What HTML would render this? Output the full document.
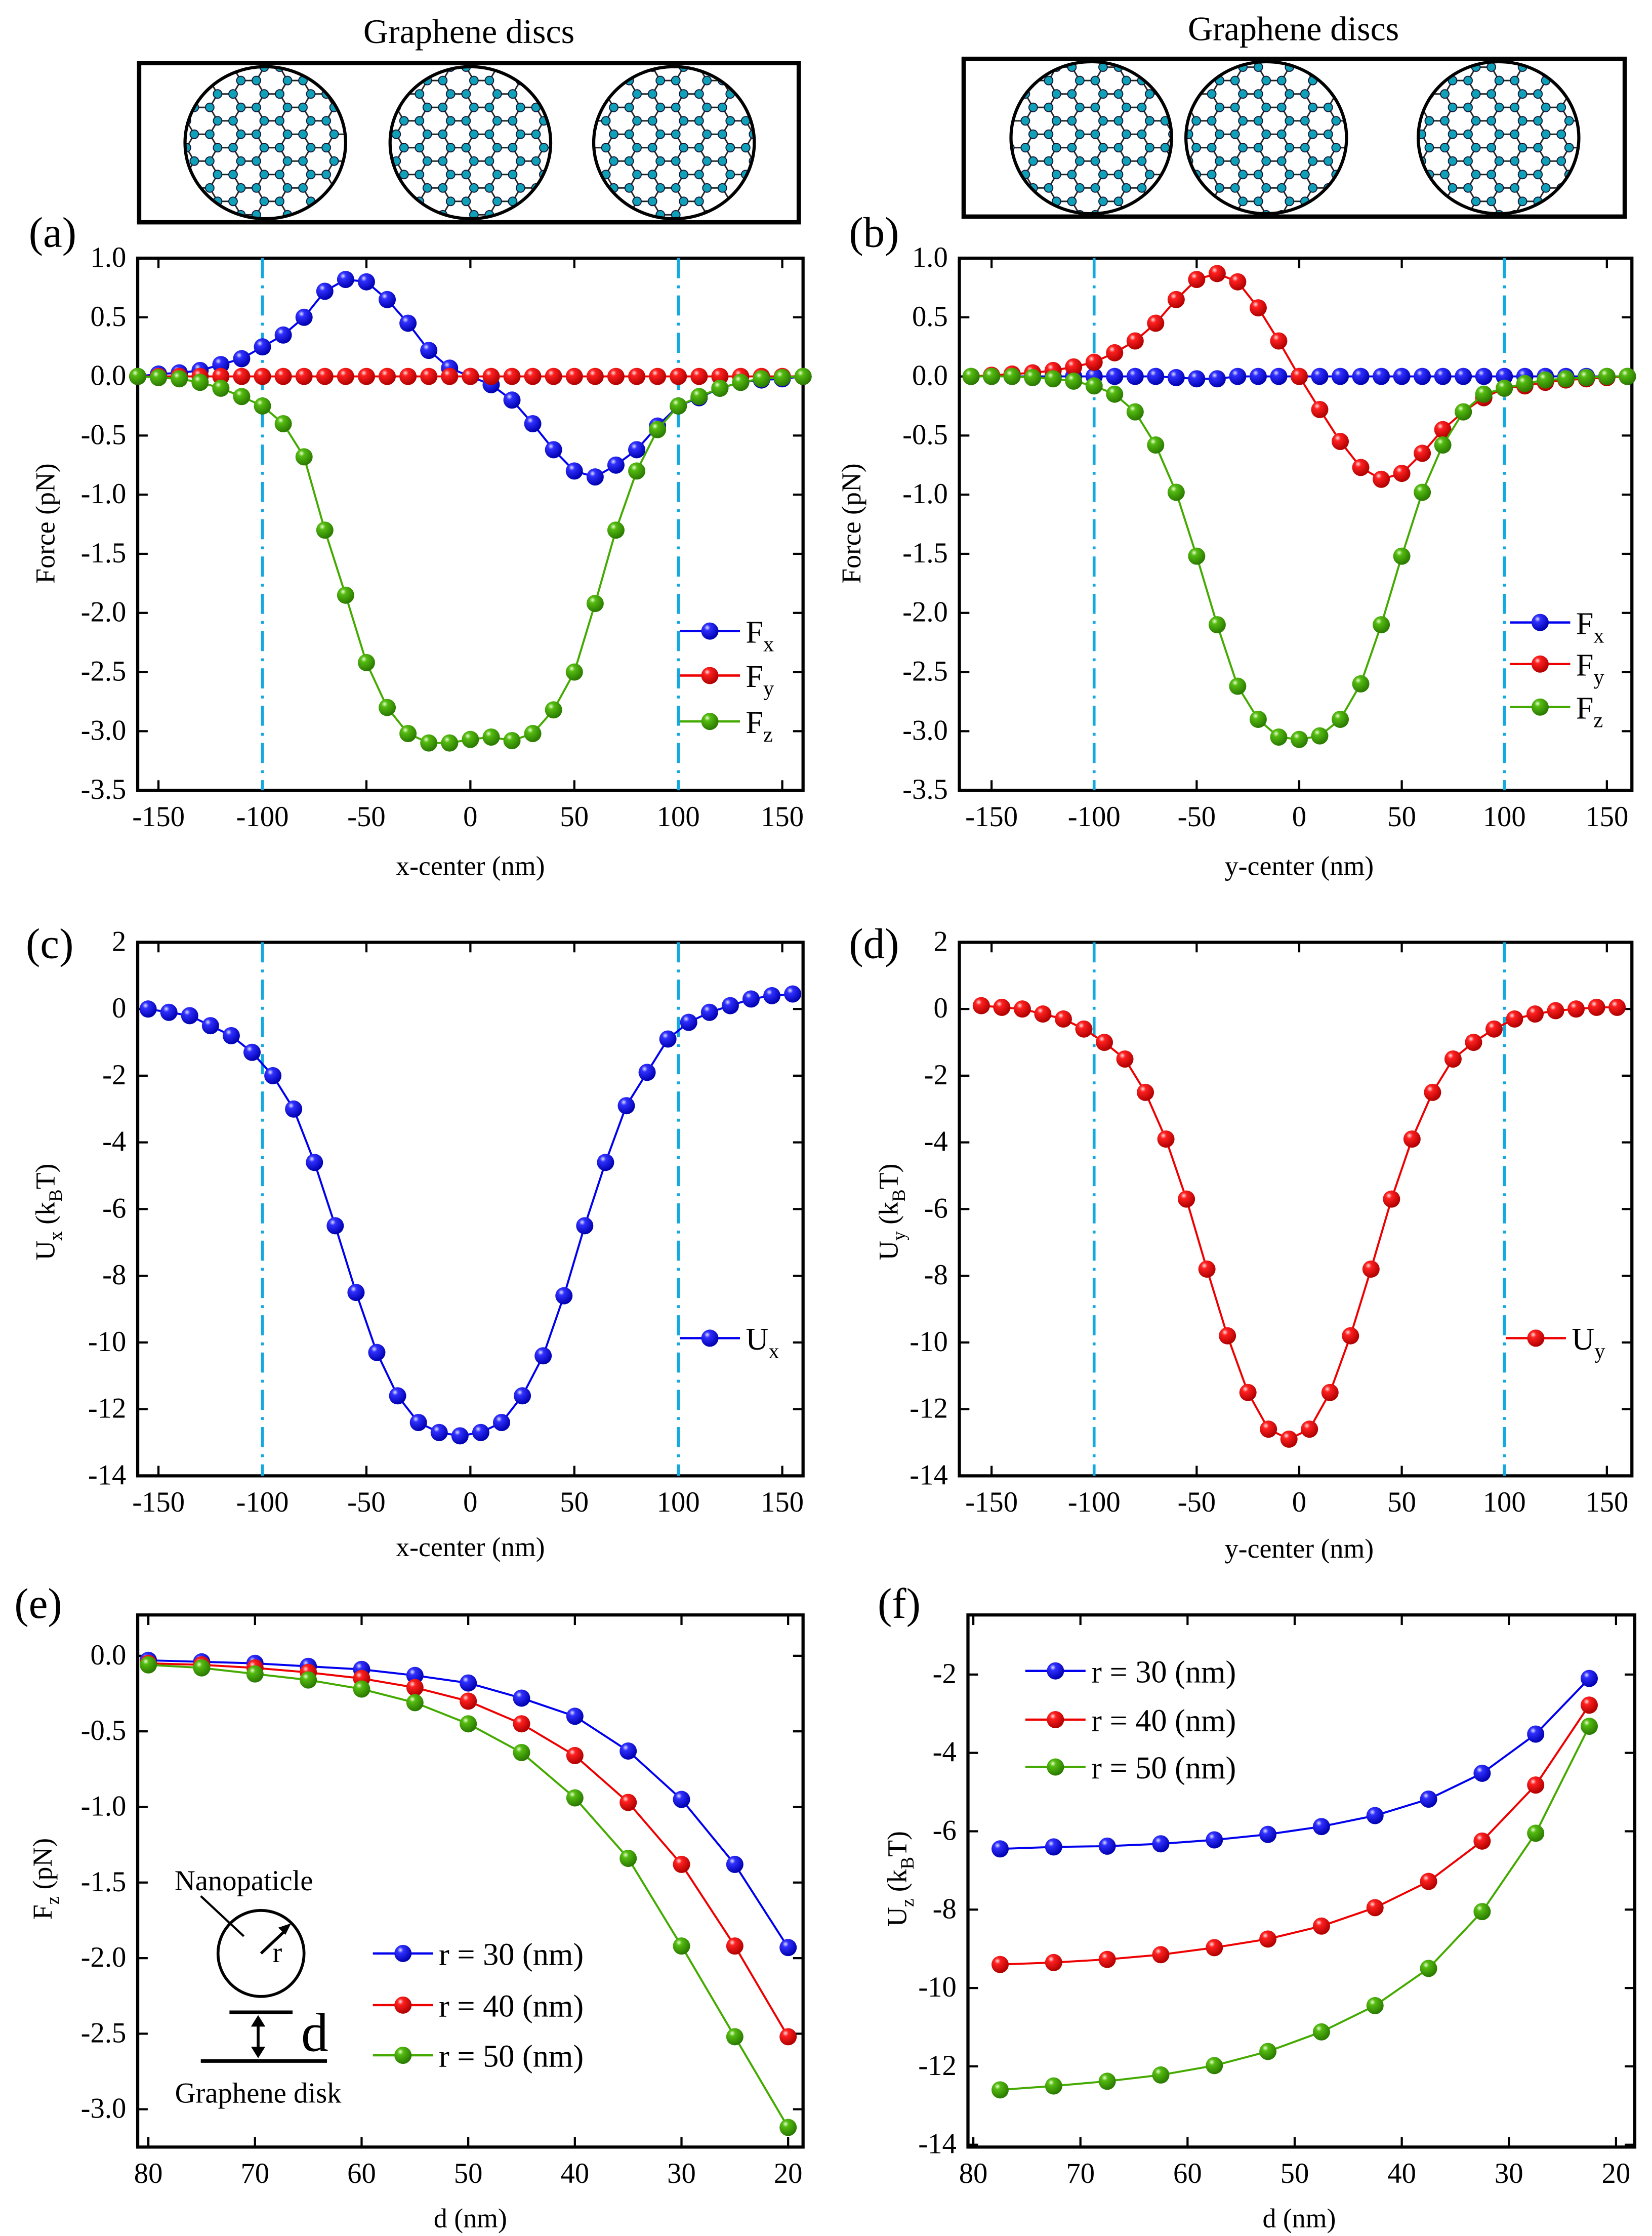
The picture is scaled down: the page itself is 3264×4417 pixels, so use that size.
<!DOCTYPE html>
<html><head><meta charset="utf-8"><style>
html,body{margin:0;padding:0;background:#fff}
svg{display:block;font-family:"Liberation Serif",serif}
</style></head><body>
<svg id="fig" width="3264" height="4417" viewBox="0 0 1152 1559" xmlns="http://www.w3.org/2000/svg">
<defs>
<radialGradient id="gb" cx="0.35" cy="0.3" r="0.7"><stop offset="0" stop-color="#e0e0ff"/><stop offset="0.25" stop-color="#3030ff"/><stop offset="1" stop-color="#0000b0"/></radialGradient>
<radialGradient id="gr" cx="0.35" cy="0.3" r="0.7"><stop offset="0" stop-color="#ffe0e0"/><stop offset="0.25" stop-color="#ff2020"/><stop offset="1" stop-color="#b00000"/></radialGradient>
<radialGradient id="gg" cx="0.35" cy="0.3" r="0.7"><stop offset="0" stop-color="#e8ffd0"/><stop offset="0.25" stop-color="#55bb11"/><stop offset="1" stop-color="#2a7a00"/></radialGradient>
<pattern id="hex" width="25" height="14.4" patternUnits="userSpaceOnUse" patternTransform="scale(1.3)">
<path d="M0,7.2 L4.2,0 L12.5,0 L16.7,7.2 L12.5,14.4 L4.2,14.4 Z M16.7,7.2 L25,7.2" fill="none" stroke="#222" stroke-width="0.8"/>
<g fill="#10a0b8" stroke="#113" stroke-width="0.5"><circle cx="0" cy="7.2" r="2.3"/><circle cx="4.2" cy="0" r="2.3"/><circle cx="12.5" cy="0" r="2.3"/><circle cx="16.7" cy="7.2" r="2.3"/><circle cx="12.5" cy="14.4" r="2.3"/><circle cx="4.2" cy="14.4" r="2.3"/><circle cx="25" cy="7.2" r="2.3"/></g>
</pattern>
</defs>
<g id="root"></g>
</svg>
<script>
// ---- data ----
const xA = [-160,-150,-140,-130,-120,-110,-100,-90,-80,-70,-60,-50,-40,-30,-20,-10,0,10,20,30,40,50,60,70,80,90,100,110,120,130,140,150,160];
const aFx = [0,0.02,0.03,0.05,0.1,0.15,0.25,0.35,0.5,0.72,0.82,0.8,0.65,0.45,0.22,0.07,0,-0.07,-0.2,-0.4,-0.62,-0.8,-0.85,-0.75,-0.62,-0.42,-0.25,-0.18,-0.1,-0.05,-0.03,-0.02,0];
const aFy = [0,0,0,0,0,0,0,0,0,0,0,0,0,0,0,0,0,0,0,0,0,0,0,0,0,0,0,0,0,0,0,0,0];
const aFz = [0,-0.01,-0.02,-0.05,-0.1,-0.17,-0.25,-0.4,-0.68,-1.3,-1.85,-2.42,-2.8,-3.02,-3.1,-3.1,-3.07,-3.05,-3.08,-3.02,-2.82,-2.5,-1.92,-1.3,-0.8,-0.45,-0.25,-0.17,-0.1,-0.05,-0.02,-0.01,0];
const bFx = [0,0,0,0,0,0,0,0,0,0,-0.01,-0.02,-0.02,0,0,0,0,0,0,0,0,0,0,0,0,0,0,0,0,0,0,0,0];
const bFy = [0,0.01,0.02,0.03,0.05,0.08,0.12,0.2,0.3,0.45,0.65,0.82,0.87,0.8,0.58,0.3,0,-0.28,-0.55,-0.77,-0.87,-0.82,-0.65,-0.45,-0.3,-0.18,-0.1,-0.08,-0.05,-0.03,-0.02,-0.01,0];
const bFz = [0,0,0,-0.01,-0.02,-0.04,-0.08,-0.15,-0.3,-0.58,-0.98,-1.52,-2.1,-2.62,-2.9,-3.05,-3.07,-3.04,-2.9,-2.6,-2.1,-1.52,-0.98,-0.58,-0.3,-0.15,-0.1,-0.06,-0.03,-0.02,-0.01,0,0];
const xC = [-155,-145,-135,-125,-115,-105,-95,-85,-75,-65,-55,-45,-35,-25,-15,-5,5,15,25,35,45,55,65,75,85,95,105,115,125,135,145,155];
const cUx = [0,-0.1,-0.2,-0.5,-0.8,-1.3,-2.0,-3.0,-4.6,-6.5,-8.5,-10.3,-11.6,-12.4,-12.7,-12.8,-12.7,-12.4,-11.6,-10.4,-8.6,-6.5,-4.6,-2.9,-1.9,-0.9,-0.4,-0.1,0.1,0.3,0.4,0.45];
const dUy = [0.1,0.05,0,-0.15,-0.3,-0.6,-1.0,-1.5,-2.5,-3.9,-5.7,-7.8,-9.8,-11.5,-12.6,-12.9,-12.6,-11.5,-9.8,-7.8,-5.7,-3.9,-2.5,-1.5,-1.0,-0.6,-0.3,-0.15,-0.05,0,0.05,0.05];
const dE = [80,75,70,65,60,55,50,45,40,35,30,25,20];
const eR30 = [-0.03,-0.04,-0.05,-0.07,-0.09,-0.13,-0.18,-0.28,-0.4,-0.63,-0.95,-1.38,-1.93];
const eR40 = [-0.05,-0.06,-0.08,-0.11,-0.15,-0.21,-0.3,-0.45,-0.66,-0.97,-1.38,-1.92,-2.52];
const eR50 = [-0.06,-0.08,-0.12,-0.16,-0.22,-0.31,-0.45,-0.64,-0.94,-1.34,-1.92,-2.52,-3.12];
const dF = [77.5,72.5,67.5,62.5,57.5,52.5,47.5,42.5,37.5,32.5,27.5,22.5];
const fR30 = [-6.45,-6.4,-6.38,-6.32,-6.22,-6.08,-5.88,-5.6,-5.18,-4.52,-3.52,-2.1];
const fR40 = [-9.4,-9.35,-9.27,-9.15,-8.97,-8.75,-8.42,-7.95,-7.28,-6.25,-4.82,-2.78];
const fR50 = [-12.6,-12.5,-12.38,-12.22,-11.98,-11.62,-11.12,-10.45,-9.5,-8.05,-6.05,-3.32];
const xTicksAB = [-150,-100,-50,0,50,100,150];
const yTicksAB = [1.0,0.5,0.0,-0.5,-1.0,-1.5,-2.0,-2.5,-3.0,-3.5];
const yTicksCD = [2,0,-2,-4,-6,-8,-10,-12,-14];
const xTicksEF = [80,70,60,50,40,30,20];
const yTicksE = [0.0,-0.5,-1.0,-1.5,-2.0,-2.5,-3.0];
const yTicksF = [-2,-4,-6,-8,-10,-12,-14];

const NS="http://www.w3.org/2000/svg";
const root=document.getElementById('root');
function mk(tag,attrs,parent){const e=document.createElementNS(NS,tag);for(const k in attrs)e.setAttribute(k,attrs[k]);(parent||root).appendChild(e);return e;}
const COL={b:'#0000ee',r:'#ee0000',g:'#44aa00'};
const GRAD={b:'url(#gb)',r:'url(#gr)',g:'url(#gg)'};

function panel(name,box,xd,yd,xticks,yticks,fmt){
  const g=mk('g',{});
  
  
  const [L,T,R,B]=box;
  const sx=v=>L+(v-xd[0])/(xd[1]-xd[0])*(R-L);
  const sy=v=>T+(v-yd[0])/(yd[1]-yd[0])*(B-T);
  const fr=mk('rect',{x:L,y:T,width:R-L,height:B-T,fill:'none',stroke:'#000','stroke-width':2.2},g);
  
  
  xticks.forEach(v=>{const x=sx(v);
    mk('line',{x1:x,x2:x,y1:B,y2:B-7,stroke:'#000','stroke-width':1.5},g);
    mk('line',{x1:x,x2:x,y1:T,y2:T+7,stroke:'#000','stroke-width':1.5},g);
    const t=mk('text',{x:x,y:B+25,'font-size':20,'text-anchor':'middle'},g);t.textContent=v;
    
    });
  yticks.forEach(v=>{const y=sy(v);
    mk('line',{x1:L,x2:L+7,y1:y,y2:y,stroke:'#000','stroke-width':1.5},g);
    mk('line',{x1:R,x2:R-7,y1:y,y2:y,stroke:'#000','stroke-width':1.5},g);
    const t=mk('text',{x:L-8,y:y+6,'font-size':20,'text-anchor':'end'},g);t.textContent=fmt(v);
    
    });
  return {g,sx,sy,L,T,R,B};
}
function series(p,name,xs,ys,c){
  const sg=mk('g',{},p.g);
  
  
  mk('polyline',{points:xs.map((x,i)=>p.sx(x)+','+p.sy(ys[i])).join(' '),fill:'none',stroke:COL[c],'stroke-width':1.4},sg);
  xs.forEach((x,i)=>{const m=mk('circle',{cx:p.sx(x),cy:p.sy(ys[i]),r:6,fill:GRAD[c]},sg);
    
    });
}
function vline(p,x){const l=mk('line',{x1:p.sx(x),x2:p.sx(x),y1:p.T,y2:p.B,stroke:'#12a8e0','stroke-width':2,'stroke-dasharray':'14,5,2,5'},p.g);
  
  }
function legend(x,y,c,main,sub,size){
  const lg=mk('g',{});
  
  
  mk('line',{x1:x,x2:x+42,y1:y,y2:y,stroke:COL[c],'stroke-width':1.6},lg);
  mk('circle',{cx:x+21,cy:y,r:6,fill:GRAD[c]},lg);
  const t=mk('text',{x:x+46,y:y+8,'font-size':size||22},lg);
  t.innerHTML=main+(sub?'<tspan dy="6" font-size="15">'+sub+'</tspan>':'');
}
function text(x,y,s,size,attrs,name){const t=mk('text',Object.assign({x:x,y:y,'font-size':size,'text-anchor':'middle'},attrs||{}));t.innerHTML=s;
  
  return t;}
function ytitle(x,y,s,name){text(x,y,s,19,{transform:'rotate(-90 '+x+' '+y+')'},name);}
const f1=v=>v.toFixed(1), f0=v=>String(v);

function discs(bx,by,bw,bh,cs,name){
  const g=mk('g',{});
  
  
  mk('rect',{x:bx,y:by,width:bw,height:bh,fill:'#fff',stroke:'#000','stroke-width':3},g);
  cs.forEach(cx=>{const cy=by+bh/2;
    const d=mk('ellipse',{cx:cx,cy:cy,rx:56,ry:53,fill:'url(#hex)',stroke:'#000','stroke-width':2.2},g);
    
    });
}
discs(97,44,460,111,[185,328,470],'disc-diagram-left');
discs(672,41,461,110,[761,883,1045],'disc-diagram-right');
text(327,30,'Graphene discs',24,{},'diagram-title-left');
text(902,28,'Graphene discs',24,{},'diagram-title-right');

let p=panel('panel-a',[96,180,560,551],[-160,160],[1.0,-3.5],xTicksAB,yTicksAB,f1);
vline(p,-100);vline(p,100);
series(p,'fx-series',xA,aFx,'b');series(p,'fy-series',xA,aFy,'r');series(p,'fz-series',xA,aFz,'g');
legend(474,440,'b','F','x');legend(474,471,'r','F','y');legend(474,503,'g','F','z');
text(20,172,'(a)',30,{'text-anchor':'start'},'panel-label-a');
ytitle(38,365,'Force (pN)','y-axis-title-a');
text(328,610,'x-center (nm)',19,{},'x-axis-title-a');

p=panel('panel-b',[669,180,1138,551],[-165.7,162.2],[1.0,-3.5],xTicksAB,yTicksAB,f1);
vline(p,-100);vline(p,100);
series(p,'fx-series',xA,bFx,'b');series(p,'fy-series',xA,bFy,'r');series(p,'fz-series',xA,bFz,'g');
legend(1053,434,'b','F','x');legend(1053,463,'r','F','y');legend(1053,493,'g','F','z');
text(592,172,'(b)',30,{'text-anchor':'start'},'panel-label-b');
ytitle(600,365,'Force (pN)','y-axis-title-b');
text(906,610,'y-center (nm)',19,{},'x-axis-title-b');

p=panel('panel-c',[96,657,560,1029],[-160,160],[2,-14],xTicksAB,yTicksCD,f0);
vline(p,-100);vline(p,100);
series(p,'ux-series',xC,cUx,'b');
legend(474,933,'b','U','x');
text(18,668,'(c)',30,{'text-anchor':'start'},'panel-label-c');
ytitle(38,845,'U<tspan dy="5" font-size="13">x</tspan><tspan dy="-5"> (k</tspan><tspan dy="5" font-size="13">B</tspan><tspan dy="-5">T)</tspan>','y-axis-title-c');
text(328,1085,'x-center (nm)',19,{},'x-axis-title-c');

p=panel('panel-d',[669,657,1138,1029],[-165.7,162.2],[2,-14],xTicksAB,yTicksCD,f0);
vline(p,-100);vline(p,100);
series(p,'uy-series',xC,dUy,'r');
legend(1050,933,'r','U','y');
text(592,668,'(d)',30,{'text-anchor':'start'},'panel-label-d');
ytitle(626,845,'U<tspan dy="5" font-size="13">y</tspan><tspan dy="-5"> (k</tspan><tspan dy="5" font-size="13">B</tspan><tspan dy="-5">T)</tspan>','y-axis-title-d');
text(906,1086,'y-center (nm)',19,{},'x-axis-title-d');

p=panel('panel-e',[96,1126,560,1497],[81,18.6],[0.27,-3.25],xTicksEF,yTicksE,f1);
series(p,'r30-series',dE,eR30,'b');series(p,'r40-series',dE,eR40,'r');series(p,'r50-series',dE,eR50,'g');
legend(260,1362,'b','r = 30 (nm)','',22);legend(260,1398,'r','r = 40 (nm)','',22);legend(260,1433,'g','r = 50 (nm)','',22);
text(10,1128,'(e)',30,{'text-anchor':'start'},'panel-label-e');
ytitle(36,1310,'F<tspan dy="5" font-size="13">z</tspan><tspan dy="-5"> (pN)</tspan>','y-axis-title-e');
text(328,1553,'d (nm)',19,{},'x-axis-title-e');
const ins=mk('g',{});


mk('circle',{cx:182,cy:1362,r:30,fill:'none',stroke:'#000','stroke-width':2},ins);
mk('line',{x1:182,y1:1362,x2:200,y2:1345,stroke:'#000','stroke-width':2},ins);
mk('path',{d:'M203,1341 l-9,3 l5,5 z',fill:'#000'},ins);
mk('line',{x1:140,y1:1322,x2:170,y2:1350,stroke:'#000','stroke-width':1.5},ins);
mk('line',{x1:160,y1:1403,x2:204,y2:1403,stroke:'#000','stroke-width':2.5},ins);
mk('line',{x1:140,y1:1437,x2:228,y2:1437,stroke:'#000','stroke-width':2.5},ins);
mk('line',{x1:180,y1:1407,x2:180,y2:1433,stroke:'#000','stroke-width':2},ins);
mk('path',{d:'M180,1405 l-5,8 h10 z M180,1435 l-5,-8 h10 z',fill:'#000'},ins);
const tr=mk('text',{x:190,y:1368,'font-size':20},ins);tr.textContent='r';
const td=mk('text',{x:210,y:1430,'font-size':38},ins);td.textContent='d';
const tn=mk('text',{x:170,y:1318,'font-size':20,'text-anchor':'middle'},ins);tn.textContent='Nanopaticle';
const tg=mk('text',{x:180,y:1466,'font-size':20,'text-anchor':'middle'},ins);tg.textContent='Graphene disk';

p=panel('panel-f',[675,1126,1140,1497],[80.5,18.25],[-0.48,-14.06],xTicksEF,yTicksF,f0);
series(p,'r30-series',dF,fR30,'b');series(p,'r40-series',dF,fR40,'r');series(p,'r50-series',dF,fR50,'g');
legend(715,1165,'b','r = 30 (nm)','',22);legend(715,1199,'r','r = 40 (nm)','',22);legend(715,1232,'g','r = 50 (nm)','',22);
text(612,1128,'(f)',30,{'text-anchor':'start'},'panel-label-f');
ytitle(632,1310,'U<tspan dy="5" font-size="13">z</tspan><tspan dy="-5"> (k</tspan><tspan dy="5" font-size="13">B</tspan><tspan dy="-5">T)</tspan>','y-axis-title-f');
text(906,1553,'d (nm)',19,{},'x-axis-title-f');
</script>
</body></html>
